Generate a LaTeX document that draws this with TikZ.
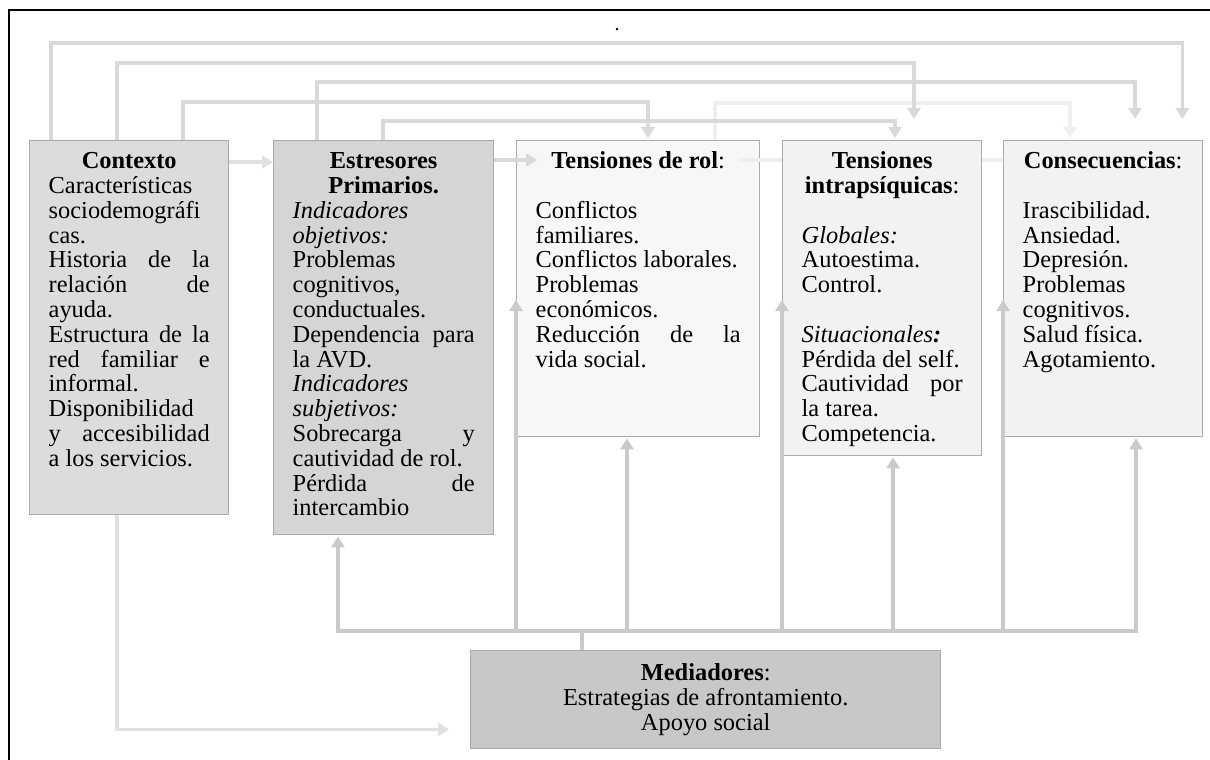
\documentclass[tikz,border=0pt]{standalone}
\usepackage{fontspec}
\setmainfont{Liberation Serif}
\usetikzlibrary{arrows.meta}
\definecolor{ctxfill}{HTML}{DCDCDC}
\definecolor{estfill}{HTML}{D5D5D5}
\definecolor{rolfill}{HTML}{F7F7F7}
\definecolor{intfill}{HTML}{F2F2F2}
\definecolor{medfill}{HTML}{C8C8C8}
\definecolor{edgegray}{HTML}{ABABAB}
\definecolor{linkgray}{HTML}{D9D9D9}
\definecolor{lightlink}{HTML}{E0E0E0}
\definecolor{basegray}{HTML}{CACACA}
\definecolor{palegray}{HTML}{EFEFEF}
\newcommand{\jl}[1]{\makebox[\linewidth][s]{#1}\\}
\newcommand{\cl}[1]{\makebox[\linewidth][c]{#1}\\}
\newcommand{\boxtext}[3]{\parbox[c][#2][t]{#1}{\rule{0pt}{28pt}#3}}
\begin{document}
\begin{tikzpicture}[x=1pt, y=-1pt,
  box/.style={draw=edgegray, line width=1.4pt, anchor=north west, inner xsep=19pt, inner ysep=0pt,
    font=\fontsize{24.4}{24.8}\selectfont},
  link/.style={draw=linkgray, line width=3.6pt, -{Triangle[width=13pt,length=11pt]}},
  pale/.style={draw=palegray, line width=3.6pt},
  palear/.style={pale, -{Triangle[width=13pt,length=11pt]}},
  base/.style={draw=basegray, line width=3.6pt},
  basear/.style={base, -{Triangle[width=13pt,length=11pt]}}
]
\useasboundingbox (0,0) rectangle (1210,760);
\draw[line width=2.2pt] (9,760) -- (9,10) -- (1210,10);
\node[font=\fontsize{20}{20}\selectfont, inner sep=0pt] (dot) at (617,30) {.};

\node[box, fill=ctxfill] (ctx) at (29,140) {\boxtext{161pt}{374pt}{%
\cl{\textbf{Contexto}}
Características\\
sociodemográfi\\
cas.\\
\jl{Historia de la}
\jl{relación de}
ayuda.\\
\jl{Estructura de la}
\jl{red familiar e}
informal.\\
Disponibilidad\\
\jl{y accesibilidad}
a los servicios.}};
\node[box, fill=estfill] (est) at (273,140) {\boxtext{182pt}{394pt}{%
\cl{\textbf{Estresores}}
\cl{\textbf{Primarios.}}
\textit{Indicadores}\\
\textit{objetivos:}\\
Problemas\\
cognitivos,\\
conductuales.\\
\jl{Dependencia para}
la AVD.\\
\textit{Indicadores}\\
\textit{subjetivos:}\\
\jl{Sobrecarga y}
cautividad de rol.\\
\jl{Pérdida de}
intercambio}};
\node[box, fill=rolfill] (rol) at (516,140) {\boxtext{205pt}{296pt}{%
\cl{\textbf{Tensiones de rol}:}
\mbox{}\\
Conflictos\\
familiares.\\
Conflictos laborales.\\
Problemas\\
económicos.\\
\jl{Reducción de la}
vida social.}};
\node[box, fill=intfill] (intra) at (782,140) {\boxtext{161pt}{315pt}{%
\cl{\textbf{Tensiones}}
\cl{\textbf{intrapsíquicas}:}
\mbox{}\\
\textit{Globales:}\\
Autoestima.\\
Control.\\
\mbox{}\\
\textit{Situacionales}\textbf{\textit{:}}\\
Pérdida del self.\\
\jl{Cautividad por}
la tarea.\\
Competencia.}};
\node[box, fill=intfill] (cons) at (1003,140) {\boxtext{161pt}{296pt}{%
\cl{\textbf{Consecuencias}:}
\mbox{}\\
Irascibilidad.\\
Ansiedad.\\
Depresión.\\
Problemas\\
cognitivos.\\
Salud física.\\
Agotamiento.}};
\node[box, fill=medfill, align=center, inner xsep=0pt, minimum width=470pt, minimum height=98pt] (med) at (470,650)
  {\textbf{Mediadores}:\\Estrategias de afrontamiento.\\Apoyo social};

\draw[palear] ([xshift=199pt]rol.north west) -- ++(0,-37) -| ([xshift=67pt,yshift=2pt]cons.north west);
\draw[link] ([xshift=22pt]ctx.north west) -- ++(0,-97) -| ([xshift=-21pt,yshift=21pt]cons.north east);
\draw[link] ([xshift=88pt]ctx.north west) -- ++(0,-77) -| ([xshift=132pt,yshift=21pt]intra.north west);
\draw[link] ([xshift=44pt]est.north west) -- ++(0,-58) -| ([xshift=132pt,yshift=21pt]cons.north west);
\draw[link] ([xshift=154pt]ctx.north west) -- ++(0,-38) -| ([xshift=132pt,yshift=2pt]rol.north west);
\draw[link] ([xshift=110pt]est.north west) -- ++(0,-19) -| ([xshift=113pt,yshift=2pt]intra.north west);

\draw[link, draw=lightlink] ([yshift=-22pt]ctx.north east) -- ([yshift=-22pt]est.north west);
\draw[link] ([yshift=-20pt]est.north east) -- ([xshift=21pt,yshift=-20pt]rol.north west);
\draw[pale] ([xshift=-22pt,yshift=-20pt]rol.north east) -- ([yshift=-20pt]intra.north west);
\draw[pale] ([yshift=-20pt]intra.north east) -- ([yshift=-20pt]cons.north west);

\draw[base] ([xshift=112pt]med.north west) -- ++(0,-19) coordinate (bus);
\draw[basear] (bus) -| ([xshift=65pt,yshift=-1pt]est.south west);
\draw[basear] (bus) -| ([yshift=-160pt]rol.north west);
\draw[basear] (bus) -| ([xshift=111pt,yshift=-1pt]rol.south west);
\draw[basear] (bus) -| ([yshift=-160pt]intra.north west);
\draw[basear] (bus) -| ([xshift=111pt,yshift=-1pt]intra.south west);
\draw[basear] (bus) -| ([yshift=-160pt]cons.north west);
\draw[basear] (bus) -| ([xshift=133pt,yshift=-1pt]cons.south west);

\draw[link, draw=lightlink] ([xshift=88pt]ctx.south west) |- ([xshift=-21pt,yshift=20pt]med.south west);
\end{tikzpicture}
\end{document}
